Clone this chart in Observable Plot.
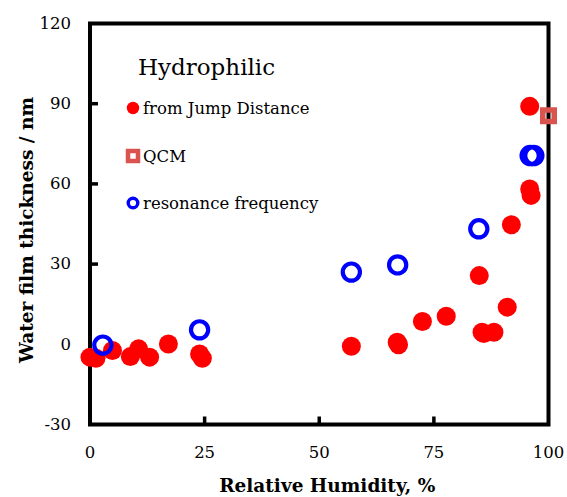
<!DOCTYPE html>
<html><head><meta charset="utf-8">
<script src="https://cdn.jsdelivr.net/npm/d3@7"></script>
<script src="https://cdn.jsdelivr.net/npm/@observablehq/plot@0.6"></script>
<style>
body{margin:0;background:#fff}
#wrap{position:relative;width:567px;height:497px}
#legend{position:absolute;left:0;top:0;pointer-events:none}
</style></head><body><div id="wrap"></div>
<script>
// Data
const jumpRH  = [0, 1.3, 4.9, 8.8, 10.6, 13.0, 17.1, 23.9, 24.5, 57.0, 67.0, 67.3, 72.5, 77.7, 84.9, 85.5, 85.9, 88.1, 91.0, 91.9, 95.9, 95.9, 96.2];
const jumpThk = [-4.8, -5.2, -2.3, -4.6, -1.7, -4.8, 0.1, -3.6, -5.2, -0.7, 0.8, -0.2, 8.5, 10.5, 25.7, 4.5, 4.0, 4.5, 13.9, 44.7, 89.0, 58.1, 55.7];
const resRH   = [2.8, 23.9, 57.0, 67.1, 84.8, 96.0, 96.8];
const resThk  = [-0.3, 5.4, 27.0, 29.7, 43.2, 70.6, 70.6];
const qcmRH   = [100];
const qcmThk  = [85.5];
const xDomain = [0, 100];
const yDomain = [-30, 120];
const xTicks = [0, 25, 50, 75, 100];
const yTicks = [-30, 0, 30, 60, 90, 120];
const xInnerTicks = [25, 50, 75];
const yInnerTicks = [30, 60, 90];
const xTitle = "Relative Humidity, %";
const yTitle = "Water film thickness / nm";
const legendTitle = "Hydrophilic";
const seriesNames = ["from Jump Distance", "QCM", "resonance frequency"];

const jump = jumpRH.map((x, i) => ({x, y: jumpThk[i]}));
const res = resRH.map((x, i) => ({x, y: resThk[i]}));
const qcm = qcmRH.map((x, i) => ({x, y: qcmThk[i]}));

// inward tick length (in data units)
const xTickLen = (yDomain[1] - yDomain[0]) * 8 / 401;
const yTickLen = (xDomain[1] - xDomain[0]) * 8 / 458;

const plot = Plot.plot({
  width: 567, height: 497,
  marginLeft: 89.5, marginRight: 19, marginTop: 23, marginBottom: 73,
  x: {domain: xDomain, label: null},
  y: {domain: yDomain, label: null},
  style: {fontFamily: "DejaVu Serif", fontSize: "16.5px", color: "#000", background: "#fff"},
  marks: [
    Plot.frame({stroke: "#000", strokeWidth: 4}),
    Plot.link(xInnerTicks, {x1: d => d, x2: d => d, y1: () => yDomain[0], y2: () => yDomain[0] + xTickLen, stroke: "#000", strokeWidth: 3.5}),
    Plot.link(yInnerTicks, {y1: d => d, y2: d => d, x1: () => xDomain[0], x2: () => xDomain[0] + yTickLen, stroke: "#000", strokeWidth: 3.5}),
    Plot.axisX(xTicks, {tickSize: 0, tickPadding: 22, fontSize: 16.5, label: null, tickFormat: d => String(d)}),
    Plot.axisY(yTicks, {tickSize: 0, tickPadding: 19, fontSize: 16.5, label: null, tickFormat: d => String(d)}),
    Plot.dot(jump, {x: "x", y: "y", r: 9.5, fill: "#ff0000", stroke: "none"}),
    Plot.dot(res, {x: "x", y: "y", r: 8.6, fill: "none", stroke: "#0000ff", strokeWidth: 4.2}),
    Plot.dot(qcm, {x: "x", y: "y", symbol: "square", r: 6.5, fill: "none", stroke: "#d9534f", strokeWidth: 5.5}),
    Plot.text([xTitle], {frameAnchor: "bottom", dx: 8, dy: 62, fontWeight: "bold", fontSize: 18.5, lineAnchor: "middle", textAnchor: "middle"}),
    Plot.text([yTitle], {frameAnchor: "left", dx: -63, dy: 6, rotate: -90, fontWeight: "bold", fontSize: 18.5, lineAnchor: "middle", textAnchor: "middle"})
  ]
});
const wrap = document.getElementById("wrap");
wrap.appendChild(plot);

// Legend overlay
const ns = "http://www.w3.org/2000/svg";
const lg = document.createElementNS(ns, "svg");
lg.setAttribute("id", "legend");
lg.setAttribute("width", 567);
lg.setAttribute("height", 497);
lg.style.fontFamily = "DejaVu Serif";
lg.innerHTML = `
  <text x="138" y="75" font-size="23">${legendTitle}</text>
  <circle cx="133" cy="108" r="6.2" fill="#ff0000"/>
  <text x="143" y="114" font-size="16.5">${seriesNames[0]}</text>
  <rect x="128" y="151" width="10" height="10" fill="#fff" stroke="#d9534f" stroke-width="4.5"/>
  <text x="143" y="162" font-size="16.5">${seriesNames[1]}</text>
  <circle cx="133" cy="203" r="4.8" fill="#fff" stroke="#0000ff" stroke-width="3.4"/>
  <text x="143" y="209" font-size="16.5">${seriesNames[2]}</text>`;
wrap.appendChild(lg);
</script>
</body></html>
